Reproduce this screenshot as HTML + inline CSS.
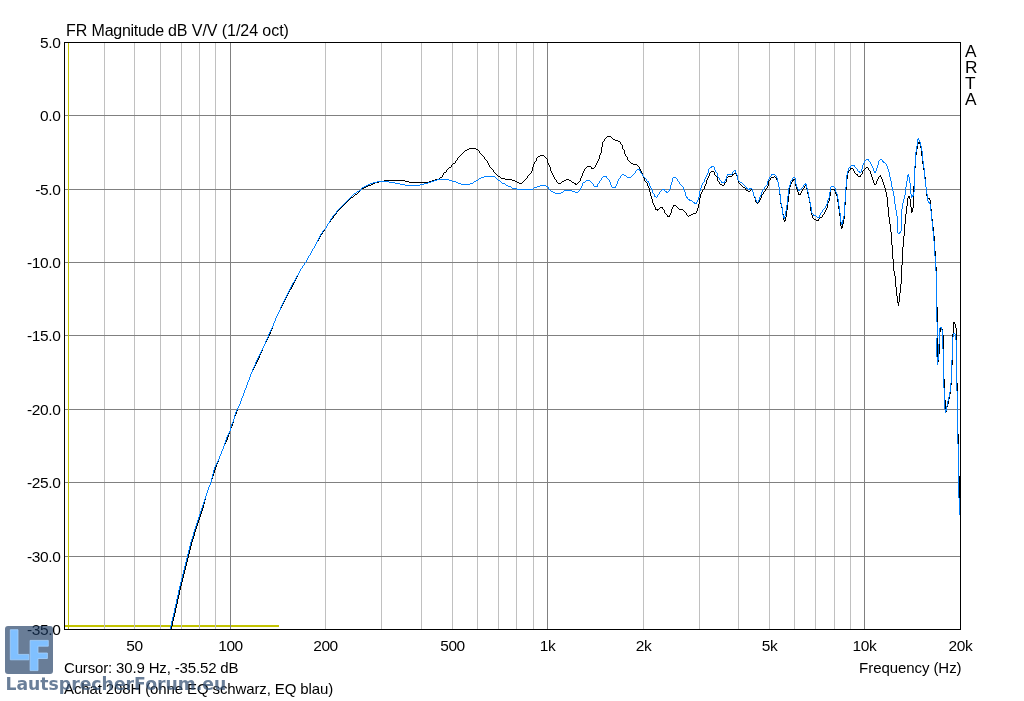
<!DOCTYPE html>
<html><head><meta charset="utf-8"><title>FR Magnitude</title>
<style>
html,body{margin:0;padding:0;background:#fff;}
body{width:1024px;height:701px;position:relative;overflow:hidden;font-family:"Liberation Sans",Arial,sans-serif;color:#000;}
#chart{position:absolute;left:0;top:0;}
.t{position:absolute;white-space:nowrap;line-height:1;}
#title{left:66px;top:23px;font-size:16px;letter-spacing:-0.06px;}
#title span{letter-spacing:-0.28px;}
.yl{position:absolute;right:963.6px;font-size:15.5px;letter-spacing:-0.4px;line-height:17px;height:17px;white-space:nowrap;text-align:right;}
.xl{position:absolute;top:637px;width:61px;text-align:center;font-size:15.5px;letter-spacing:-0.4px;line-height:17px;white-space:nowrap;}
#freq{right:62.5px;top:660px;font-size:15px;letter-spacing:-0.07px;}
#cursor{left:64px;top:660px;font-size:15px;letter-spacing:-0.155px;}
#cap{left:64px;top:681px;font-size:15px;letter-spacing:-0.12px;}
.arta{position:absolute;left:964.5px;font-size:16px;line-height:16px;transform:scaleX(1.08);transform-origin:0 0;}
#logo{position:absolute;left:5px;top:626px;width:48px;height:48px;border-radius:3px;background:rgba(25,56,95,0.65);}
#wm{position:absolute;left:5.4px;top:674px;font-family:"DejaVu Sans","Liberation Sans",sans-serif;font-weight:bold;font-size:17.25px;line-height:20px;color:rgba(56,84,119,0.75);white-space:nowrap;}
</style></head><body>
<svg id="chart" width="1024" height="701" viewBox="0 0 1024 701">
<rect x="65" y="625" width="214" height="2" fill="#c3c300"/>
<rect x="104" y="43" width="1" height="586" fill="#c0c0c0"/>
<rect x="134" y="43" width="1" height="586" fill="#c0c0c0"/>
<rect x="160" y="43" width="1" height="586" fill="#c0c0c0"/>
<rect x="181" y="43" width="1" height="586" fill="#c0c0c0"/>
<rect x="199" y="43" width="1" height="586" fill="#c0c0c0"/>
<rect x="215" y="43" width="1" height="586" fill="#c0c0c0"/>
<rect x="325" y="43" width="1" height="586" fill="#c0c0c0"/>
<rect x="381" y="43" width="1" height="586" fill="#c0c0c0"/>
<rect x="421" y="43" width="1" height="586" fill="#c0c0c0"/>
<rect x="452" y="43" width="1" height="586" fill="#c0c0c0"/>
<rect x="477" y="43" width="1" height="586" fill="#c0c0c0"/>
<rect x="498" y="43" width="1" height="586" fill="#c0c0c0"/>
<rect x="516" y="43" width="1" height="586" fill="#c0c0c0"/>
<rect x="533" y="43" width="1" height="586" fill="#c0c0c0"/>
<rect x="643" y="43" width="1" height="586" fill="#c0c0c0"/>
<rect x="699" y="43" width="1" height="586" fill="#c0c0c0"/>
<rect x="738" y="43" width="1" height="586" fill="#c0c0c0"/>
<rect x="769" y="43" width="1" height="586" fill="#c0c0c0"/>
<rect x="794" y="43" width="1" height="586" fill="#c0c0c0"/>
<rect x="815" y="43" width="1" height="586" fill="#c0c0c0"/>
<rect x="834" y="43" width="1" height="586" fill="#c0c0c0"/>
<rect x="850" y="43" width="1" height="586" fill="#c0c0c0"/>
<rect x="230" y="43" width="1" height="586" fill="#808080"/>
<rect x="547" y="43" width="1" height="586" fill="#808080"/>
<rect x="864" y="43" width="1" height="586" fill="#808080"/>
<rect x="65" y="115" width="895" height="1" fill="#808080"/>
<rect x="65" y="189" width="895" height="1" fill="#808080"/>
<rect x="65" y="262" width="895" height="1" fill="#808080"/>
<rect x="65" y="335" width="895" height="1" fill="#808080"/>
<rect x="65" y="409" width="895" height="1" fill="#808080"/>
<rect x="65" y="482" width="895" height="1" fill="#808080"/>
<rect x="65" y="556" width="895" height="1" fill="#808080"/>
<rect x="68" y="43" width="1" height="586" fill="#c3c300"/>
<path d="M171 626h1v3h-1zM172 621h1v5h-1zM173 617h1v4h-1zM174 613h1v4h-1zM175 608h1v5h-1zM176 604h1v4h-1zM177 599h1v5h-1zM178 595h1v4h-1zM179 590h1v5h-1zM180 586h1v4h-1zM181 582h1v4h-1zM182 578h1v4h-1zM183 574h1v4h-1zM184 570h1v4h-1zM185 566h1v4h-1zM186 562h1v4h-1zM187 558h1v4h-1zM188 554h1v4h-1zM189 550h1v4h-1zM190 546h1v4h-1zM191 542h1v4h-1zM192 539h1v3h-1zM193 536h1v3h-1zM194 532h1v4h-1zM195 529h1v3h-1zM196 526h1v3h-1zM197 523h1v3h-1zM198 520h1v3h-1zM199 517h1v3h-1zM200 514h1v3h-1zM201 511h1v3h-1zM202 508h1v3h-1zM203 504h1v4h-1zM204 500h1v4h-1zM205 496h1v4h-1zM206 493h1v3h-1zM207 490h1v3h-1zM208 487h1v3h-1zM209 485h1v2h-1zM210 482h1v3h-1zM211 479h1v3h-1zM212 476h1v3h-1zM213 473h1v3h-1zM214 470h1v3h-1zM215 467h1v3h-1zM216 464h1v3h-1zM217 462h1v2h-1zM218 459h1v3h-1zM219 456h1v3h-1zM220 454h1v2h-1zM221 451h1v3h-1zM222 449h1v2h-1zM223 446h1v3h-1zM224 444h1v2h-1zM225 442h1v2h-1zM226 440h1v2h-1zM227 437h1v3h-1zM228 434h1v3h-1zM229 431h1v3h-1zM230 428h1v3h-1zM231 426h1v2h-1zM232 423h1v3h-1zM233 419h1v4h-1zM234 416h1v3h-1zM235 414h1v2h-1zM236 411h1v3h-1zM237 408h1v3h-1zM238 406h1v2h-1zM239 404h1v2h-1zM240 401h1v3h-1zM241 398h1v3h-1zM242 396h1v2h-1zM243 393h1v3h-1zM244 390h1v3h-1zM245 388h1v2h-1zM246 385h1v3h-1zM247 382h1v3h-1zM248 380h1v2h-1zM249 377h1v3h-1zM250 374h1v3h-1zM251 372h1v2h-1zM252 370h1v2h-1zM253 368h1v2h-1zM254 366h1v2h-1zM255 364h1v2h-1zM256 362h1v2h-1zM257 360h1v2h-1zM258 358h1v2h-1zM259 355h1v3h-1zM260 353h1v2h-1zM261 351h1v2h-1zM262 348h1v3h-1zM263 346h1v2h-1zM264 344h1v2h-1zM265 342h1v2h-1zM266 340h1v2h-1zM267 338h1v2h-1zM268 336h1v2h-1zM269 334h1v2h-1zM270 331h1v3h-1zM271 329h1v2h-1zM272 326h1v3h-1zM273 323h1v3h-1zM274 321h1v2h-1zM275 318h1v3h-1zM276 316h1v2h-1zM277 314h1v2h-1zM278 312h1v2h-1zM279 310h1v2h-1zM280 308h1v2h-1zM281 306h1v2h-1zM282 304h1v2h-1zM283 302h1v2h-1zM284 300h1v2h-1zM285 298h1v2h-1zM286 296h1v2h-1zM287 294h1v2h-1zM288 292h1v2h-1zM289 290h1v2h-1zM291 287h1v2h-1zM292 285h1v2h-1zM293 283h1v2h-1zM294 281h1v2h-1zM295 279h1v2h-1zM296 277h1v2h-1zM297 275h1v2h-1zM298 273h1v2h-1zM299 271h1v2h-1zM300 269h1v2h-1zM302 266h1v2h-1zM304 263h1v2h-1zM306 260h1v2h-1zM307 258h1v2h-1zM308 256h1v2h-1zM310 253h1v2h-1zM311 251h1v2h-1zM312 249h1v2h-1zM314 246h1v2h-1zM315 244h1v2h-1zM316 242h1v2h-1zM318 239h1v2h-1zM319 237h1v2h-1zM320 235h1v2h-1zM322 232h1v2h-1zM324 229h1v2h-1zM326 226h1v2h-1zM327 224h1v2h-1zM330 220h1v2h-1zM333 216h1v2h-1zM336 212h1v2h-1zM442 175h1v2h-1zM443 173h1v2h-1zM446 170h1v2h-1zM451 165h1v2h-1zM455 161h1v2h-1zM457 158h1v2h-1zM479 151h1v2h-1zM484 157h1v2h-1zM487 161h1v2h-1zM488 163h1v2h-1zM489 165h1v2h-1zM493 170h1v2h-1zM527 176h1v2h-1zM531 171h1v2h-1zM532 167h1v4h-1zM533 164h1v3h-1zM534 162h1v2h-1zM536 158h1v3h-1zM547 159h1v4h-1zM548 163h1v2h-1zM549 165h1v2h-1zM550 167h1v4h-1zM551 171h1v2h-1zM552 173h1v2h-1zM553 175h1v2h-1zM554 177h1v2h-1zM556 180h1v2h-1zM575 183h1v2h-1zM580 178h1v3h-1zM581 176h1v2h-1zM582 173h1v3h-1zM583 171h1v2h-1zM584 169h1v2h-1zM591 167h1v2h-1zM595 165h1v2h-1zM596 163h1v2h-1zM597 161h1v2h-1zM598 159h1v2h-1zM599 155h1v4h-1zM600 153h1v2h-1zM601 147h1v6h-1zM602 142h1v5h-1zM604 139h1v2h-1zM620 142h1v2h-1zM622 145h1v4h-1zM624 150h1v4h-1zM625 154h1v2h-1zM627 157h1v3h-1zM639 167h1v2h-1zM640 169h1v2h-1zM641 171h1v2h-1zM642 173h1v3h-1zM643 176h1v2h-1zM644 178h1v3h-1zM647 183h1v3h-1zM648 186h1v2h-1zM649 188h1v4h-1zM650 192h1v4h-1zM651 196h1v3h-1zM652 199h1v4h-1zM653 203h1v2h-1zM654 205h1v2h-1zM655 207h1v3h-1zM657 209h1v2h-1zM662 207h1v2h-1zM664 210h1v3h-1zM667 215h1v2h-1zM669 215h1v2h-1zM670 213h1v2h-1zM671 209h1v4h-1zM672 207h1v2h-1zM673 205h1v2h-1zM686 213h1v2h-1zM696 211h1v2h-1zM697 208h1v3h-1zM698 204h1v4h-1zM699 198h1v6h-1zM700 194h1v4h-1zM701 192h1v2h-1zM702 190h1v2h-1zM704 186h1v3h-1zM705 184h1v2h-1zM706 180h1v4h-1zM707 178h1v2h-1zM708 176h1v2h-1zM709 173h1v3h-1zM714 172h1v3h-1zM717 177h1v4h-1zM719 182h1v2h-1zM724 183h1v2h-1zM726 178h1v4h-1zM732 174h1v2h-1zM736 174h1v2h-1zM737 176h1v4h-1zM738 180h1v3h-1zM745 188h1v2h-1zM752 189h1v3h-1zM753 192h1v4h-1zM754 196h1v2h-1zM755 198h1v4h-1zM759 200h1v2h-1zM760 198h1v2h-1zM761 195h1v3h-1zM763 192h1v2h-1zM765 189h1v2h-1zM767 186h1v2h-1zM768 181h1v5h-1zM770 178h1v2h-1zM776 178h1v2h-1zM777 180h1v2h-1zM778 182h1v5h-1zM779 187h1v8h-1zM780 195h1v9h-1zM781 204h1v4h-1zM782 208h1v6h-1zM783 214h1v6h-1zM784 220h1v2h-1zM785 217h1v4h-1zM786 210h1v7h-1zM787 202h1v8h-1zM788 194h1v8h-1zM789 187h1v7h-1zM790 184h1v3h-1zM791 182h1v2h-1zM792 180h1v2h-1zM793 179h1v2h-1zM795 180h1v6h-1zM796 186h1v3h-1zM797 189h1v3h-1zM798 192h1v3h-1zM800 193h1v2h-1zM801 191h1v2h-1zM802 189h1v2h-1zM804 186h1v2h-1zM806 186h1v3h-1zM807 189h1v5h-1zM808 194h1v4h-1zM809 198h1v5h-1zM810 203h1v8h-1zM811 211h1v4h-1zM812 215h1v3h-1zM818 219h1v2h-1zM822 215h1v2h-1zM824 212h1v2h-1zM825 210h1v2h-1zM826 208h1v2h-1zM827 203h1v5h-1zM828 201h1v2h-1zM829 196h1v5h-1zM830 190h1v6h-1zM834 189h1v2h-1zM835 191h1v3h-1zM836 194h1v2h-1zM837 196h1v6h-1zM838 202h1v7h-1zM839 209h1v7h-1zM840 216h1v10h-1zM841 226h1v3h-1zM842 224h1v4h-1zM843 219h1v5h-1zM844 205h1v14h-1zM845 190h1v15h-1zM846 179h1v11h-1zM847 173h1v6h-1zM848 171h1v2h-1zM850 168h1v2h-1zM853 169h1v2h-1zM854 171h1v2h-1zM857 174h1v2h-1zM860 175h1v2h-1zM862 171h1v3h-1zM868 168h1v2h-1zM870 171h1v3h-1zM871 174h1v3h-1zM872 177h1v3h-1zM873 180h1v3h-1zM874 183h1v2h-1zM876 181h1v3h-1zM877 179h1v2h-1zM878 177h1v2h-1zM880 175h1v2h-1zM881 177h1v2h-1zM882 179h1v3h-1zM883 182h1v3h-1zM884 185h1v3h-1zM885 188h1v4h-1zM886 192h1v5h-1zM887 197h1v10h-1zM888 207h1v10h-1zM889 217h1v7h-1zM890 224h1v8h-1zM891 232h1v13h-1zM892 245h1v14h-1zM893 259h1v12h-1zM894 271h1v5h-1zM895 276h1v11h-1zM896 287h1v9h-1zM897 296h1v7h-1zM898 302h1v4h-1zM899 293h1v9h-1zM900 284h1v9h-1zM901 265h1v19h-1zM902 247h1v18h-1zM903 236h1v11h-1zM904 224h1v12h-1zM905 214h1v10h-1zM906 206h1v8h-1zM907 198h1v8h-1zM908 196h1v2h-1zM909 196h1v3h-1zM910 199h1v8h-1zM911 207h1v6h-1zM912 208h1v4h-1zM913 186h1v22h-1zM914 168h1v18h-1zM915 155h1v13h-1zM916 149h1v6h-1zM917 144h1v5h-1zM918 142h1v2h-1zM919 142h1v2h-1zM920 144h1v4h-1zM921 148h1v8h-1zM922 156h1v8h-1zM923 164h1v6h-1zM924 170h1v7h-1zM925 177h1v10h-1zM926 187h1v9h-1zM927 196h1v2h-1zM929 198h1v2h-1zM930 200h1v9h-1zM931 209h1v10h-1zM932 219h1v8h-1zM933 227h1v9h-1zM934 236h1v15h-1zM935 251h1v16h-1zM936 267h1v40h-1zM937 307h1v58h-1zM938 354h1v8h-1zM939 332h1v22h-1zM940 327h1v5h-1zM941 327h1v2h-1zM942 329h1v6h-1zM943 335h1v44h-1zM944 379h1v21h-1zM945 400h1v13h-1zM946 407h1v5h-1zM947 404h1v3h-1zM948 399h1v5h-1zM949 394h1v5h-1zM950 385h1v9h-1zM951 365h1v20h-1zM952 334h1v31h-1zM953 322h1v12h-1zM954 322h1v2h-1zM955 324h1v4h-1zM956 328h1v55h-1zM957 383h1v51h-1zM958 434h1v42h-1zM959 476h1v39h-1zM607 136h4v1h-4zM606 137h1v1h-1zM611 137h1v1h-1zM605 138h1v1h-1zM612 138h1v1h-1zM613 139h2v1h-2zM615 140h3v1h-3zM603 141h1v1h-1zM618 141h2v1h-2zM621 144h1v1h-1zM469 148h7v1h-7zM467 149h2v1h-2zM476 149h2v1h-2zM623 149h1v1h-1zM465 150h2v1h-2zM478 150h1v1h-1zM464 151h1v1h-1zM463 152h1v1h-1zM462 153h1v1h-1zM480 153h1v1h-1zM461 154h1v1h-1zM481 154h1v1h-1zM460 155h1v1h-1zM482 155h1v1h-1zM540 155h4v1h-4zM459 156h1v1h-1zM483 156h1v1h-1zM538 156h2v1h-2zM544 156h1v1h-1zM626 156h1v1h-1zM458 157h1v1h-1zM537 157h1v1h-1zM545 157h1v1h-1zM546 158h1v1h-1zM485 159h1v1h-1zM456 160h1v1h-1zM486 160h1v1h-1zM628 160h1v1h-1zM535 161h1v1h-1zM629 161h1v1h-1zM630 162h1v1h-1zM453 163h2v1h-2zM631 163h2v1h-2zM452 164h1v1h-1zM633 164h4v1h-4zM637 165h1v1h-1zM587 166h4v1h-4zM638 166h1v1h-1zM449 167h2v1h-2zM490 167h1v1h-1zM586 167h1v1h-1zM594 167h1v1h-1zM866 167h2v1h-2zM448 168h1v1h-1zM491 168h1v1h-1zM585 168h1v1h-1zM592 168h2v1h-2zM851 168h2v1h-2zM865 168h1v1h-1zM447 169h1v1h-1zM492 169h1v1h-1zM864 169h1v1h-1zM849 170h1v1h-1zM863 170h1v1h-1zM869 170h1v1h-1zM711 171h3v1h-3zM444 172h2v1h-2zM494 172h1v1h-1zM710 172h1v1h-1zM495 173h1v1h-1zM530 173h1v1h-1zM734 173h2v1h-2zM855 173h1v1h-1zM496 174h1v1h-1zM529 174h1v1h-1zM733 174h1v1h-1zM856 174h1v1h-1zM861 174h1v1h-1zM497 175h1v1h-1zM528 175h1v1h-1zM715 175h1v1h-1zM498 176h2v1h-2zM716 176h1v1h-1zM728 176h4v1h-4zM774 176h1v1h-1zM858 176h2v1h-2zM879 176h1v1h-1zM440 177h2v1h-2zM500 177h1v1h-1zM727 177h1v1h-1zM771 177h3v1h-3zM775 177h1v1h-1zM439 178h1v1h-1zM501 178h4v1h-4zM526 178h1v1h-1zM435 179h4v1h-4zM505 179h7v1h-7zM525 179h1v1h-1zM555 179h1v1h-1zM566 179h3v1h-3zM794 179h1v1h-1zM384 180h21v1h-21zM432 180h3v1h-3zM512 180h3v1h-3zM524 180h1v1h-1zM564 180h2v1h-2zM569 180h2v1h-2zM769 180h1v1h-1zM379 181h5v1h-5zM405 181h4v1h-4zM429 181h3v1h-3zM515 181h2v1h-2zM523 181h1v1h-1zM562 181h2v1h-2zM571 181h1v1h-1zM579 181h1v1h-1zM645 181h1v1h-1zM718 181h1v1h-1zM375 182h4v1h-4zM409 182h20v1h-20zM517 182h2v1h-2zM522 182h1v1h-1zM557 182h1v1h-1zM561 182h1v1h-1zM572 182h2v1h-2zM578 182h1v1h-1zM646 182h1v1h-1zM725 182h1v1h-1zM373 183h2v1h-2zM519 183h3v1h-3zM558 183h3v1h-3zM574 183h1v1h-1zM577 183h1v1h-1zM739 183h1v1h-1zM371 184h2v1h-2zM576 184h1v1h-1zM720 184h2v1h-2zM740 184h1v1h-1zM875 184h1v1h-1zM368 185h3v1h-3zM722 185h2v1h-2zM741 185h1v1h-1zM805 185h1v1h-1zM366 186h2v1h-2zM742 186h1v1h-1zM364 187h2v1h-2zM743 187h2v1h-2zM362 188h2v1h-2zM766 188h1v1h-1zM803 188h1v1h-1zM361 189h1v1h-1zM703 189h1v1h-1zM751 189h1v1h-1zM831 189h3v1h-3zM360 190h1v1h-1zM746 190h2v1h-2zM750 190h1v1h-1zM359 191h1v1h-1zM748 191h2v1h-2zM764 191h1v1h-1zM358 192h1v1h-1zM357 193h1v1h-1zM355 194h2v1h-2zM762 194h1v1h-1zM799 194h1v1h-1zM354 195h1v1h-1zM353 196h1v1h-1zM351 197h2v1h-2zM350 198h1v1h-1zM928 198h1v1h-1zM349 199h1v1h-1zM348 200h1v1h-1zM347 201h1v1h-1zM346 202h1v1h-1zM756 202h1v1h-1zM758 202h1v1h-1zM345 203h1v1h-1zM757 203h1v1h-1zM344 204h1v1h-1zM343 205h1v1h-1zM674 205h2v1h-2zM342 206h1v1h-1zM676 206h1v1h-1zM341 207h1v1h-1zM660 207h2v1h-2zM677 207h1v1h-1zM340 208h1v1h-1zM659 208h1v1h-1zM678 208h1v1h-1zM339 209h1v1h-1zM656 209h1v1h-1zM658 209h1v1h-1zM663 209h1v1h-1zM679 209h4v1h-4zM338 210h1v1h-1zM683 210h1v1h-1zM337 211h1v1h-1zM684 211h1v1h-1zM685 212h1v1h-1zM665 213h1v1h-1zM693 213h3v1h-3zM335 214h1v1h-1zM666 214h1v1h-1zM691 214h2v1h-2zM823 214h1v1h-1zM334 215h1v1h-1zM687 215h1v1h-1zM689 215h2v1h-2zM668 216h1v1h-1zM688 216h1v1h-1zM820 217h2v1h-2zM332 218h1v1h-1zM813 218h1v1h-1zM819 218h1v1h-1zM331 219h1v1h-1zM814 219h2v1h-2zM816 220h2v1h-2zM329 222h1v1h-1zM328 223h1v1h-1zM325 228h1v1h-1zM323 231h1v1h-1zM321 234h1v1h-1zM317 241h1v1h-1zM313 248h1v1h-1zM309 255h1v1h-1zM305 262h1v1h-1zM303 265h1v1h-1zM301 268h1v1h-1zM290 289h1v1h-1z" fill="#000" shape-rendering="crispEdges"/>
<path d="M170 626h1v3h-1zM171 621h1v5h-1zM172 617h1v4h-1zM173 613h1v4h-1zM174 608h1v5h-1zM175 604h1v4h-1zM176 599h1v5h-1zM177 595h1v4h-1zM178 590h1v5h-1zM179 586h1v4h-1zM180 582h1v4h-1zM181 578h1v4h-1zM182 574h1v4h-1zM183 570h1v4h-1zM184 566h1v4h-1zM185 562h1v4h-1zM186 558h1v4h-1zM187 554h1v4h-1zM188 550h1v4h-1zM189 546h1v4h-1zM190 542h1v4h-1zM191 539h1v3h-1zM192 536h1v3h-1zM193 532h1v4h-1zM194 529h1v3h-1zM195 526h1v3h-1zM196 523h1v3h-1zM197 520h1v3h-1zM198 517h1v3h-1zM199 514h1v3h-1zM200 511h1v3h-1zM201 508h1v3h-1zM202 505h1v3h-1zM203 502h1v3h-1zM204 499h1v3h-1zM205 496h1v3h-1zM206 493h1v3h-1zM207 490h1v3h-1zM208 487h1v3h-1zM209 485h1v2h-1zM210 482h1v3h-1zM211 478h1v4h-1zM212 474h1v4h-1zM213 470h1v4h-1zM214 467h1v3h-1zM215 465h1v2h-1zM216 463h1v2h-1zM217 461h1v2h-1zM218 459h1v2h-1zM219 456h1v3h-1zM220 454h1v2h-1zM221 451h1v3h-1zM222 449h1v2h-1zM223 446h1v3h-1zM224 443h1v3h-1zM225 440h1v3h-1zM226 437h1v3h-1zM227 435h1v2h-1zM228 433h1v2h-1zM229 431h1v2h-1zM230 427h1v4h-1zM231 424h1v3h-1zM232 422h1v2h-1zM233 419h1v3h-1zM234 415h1v4h-1zM235 412h1v3h-1zM236 410h1v2h-1zM237 408h1v2h-1zM238 406h1v2h-1zM239 404h1v2h-1zM240 401h1v3h-1zM241 398h1v3h-1zM242 396h1v2h-1zM243 393h1v3h-1zM244 390h1v3h-1zM245 388h1v2h-1zM246 385h1v3h-1zM247 382h1v3h-1zM248 380h1v2h-1zM249 377h1v3h-1zM250 374h1v3h-1zM251 372h1v2h-1zM252 369h1v3h-1zM253 367h1v2h-1zM254 365h1v2h-1zM255 362h1v3h-1zM256 360h1v2h-1zM257 358h1v2h-1zM258 356h1v2h-1zM259 354h1v2h-1zM260 352h1v2h-1zM261 350h1v2h-1zM262 348h1v2h-1zM263 346h1v2h-1zM264 344h1v2h-1zM265 341h1v3h-1zM266 339h1v2h-1zM267 337h1v2h-1zM268 334h1v3h-1zM269 332h1v2h-1zM270 330h1v2h-1zM271 328h1v2h-1zM272 326h1v2h-1zM273 323h1v3h-1zM274 321h1v2h-1zM275 318h1v3h-1zM276 316h1v2h-1zM277 314h1v2h-1zM278 312h1v2h-1zM279 310h1v2h-1zM280 307h1v3h-1zM281 305h1v2h-1zM282 303h1v2h-1zM283 301h1v2h-1zM284 299h1v2h-1zM285 297h1v2h-1zM286 295h1v2h-1zM287 293h1v2h-1zM288 291h1v2h-1zM289 289h1v2h-1zM290 287h1v2h-1zM291 285h1v2h-1zM292 283h1v2h-1zM294 280h1v2h-1zM295 278h1v2h-1zM296 276h1v2h-1zM298 273h1v2h-1zM299 271h1v2h-1zM300 269h1v2h-1zM302 266h1v2h-1zM304 263h1v2h-1zM306 260h1v2h-1zM307 258h1v2h-1zM308 256h1v2h-1zM310 253h1v2h-1zM311 251h1v2h-1zM312 249h1v2h-1zM314 246h1v2h-1zM315 244h1v2h-1zM316 242h1v2h-1zM317 240h1v2h-1zM318 238h1v2h-1zM319 236h1v2h-1zM320 234h1v2h-1zM322 231h1v2h-1zM326 226h1v2h-1zM327 224h1v2h-1zM329 221h1v2h-1zM330 219h1v2h-1zM332 216h1v2h-1zM336 211h1v2h-1zM361 188h1v2h-1zM548 187h1v2h-1zM580 188h1v2h-1zM581 186h1v2h-1zM582 183h1v3h-1zM593 184h1v2h-1zM597 184h1v3h-1zM599 181h1v2h-1zM601 178h1v2h-1zM606 176h1v2h-1zM609 180h1v2h-1zM610 182h1v3h-1zM611 185h1v2h-1zM615 186h1v2h-1zM616 184h1v2h-1zM617 181h1v3h-1zM618 179h1v2h-1zM620 176h1v2h-1zM635 171h1v2h-1zM639 169h1v2h-1zM640 171h1v2h-1zM642 174h1v2h-1zM646 179h1v2h-1zM648 181h1v2h-1zM649 183h1v3h-1zM650 186h1v2h-1zM651 188h1v2h-1zM652 190h1v3h-1zM654 194h1v3h-1zM657 195h1v2h-1zM659 192h1v2h-1zM664 189h1v2h-1zM666 191h1v2h-1zM669 189h1v2h-1zM670 185h1v4h-1zM671 182h1v3h-1zM672 178h1v4h-1zM677 179h1v2h-1zM679 182h1v2h-1zM683 187h1v3h-1zM684 190h1v2h-1zM685 192h1v4h-1zM686 196h1v2h-1zM687 197h1v2h-1zM689 199h1v2h-1zM694 202h1v2h-1zM696 202h1v2h-1zM697 200h1v2h-1zM698 197h1v3h-1zM699 191h1v6h-1zM700 188h1v3h-1zM701 185h1v3h-1zM702 183h1v2h-1zM704 179h1v3h-1zM705 177h1v2h-1zM706 175h1v2h-1zM707 173h1v2h-1zM708 169h1v4h-1zM711 166h1v2h-1zM714 167h1v3h-1zM715 170h1v2h-1zM717 173h1v4h-1zM719 178h1v2h-1zM721 181h1v2h-1zM724 181h1v2h-1zM725 179h1v2h-1zM726 176h1v3h-1zM727 174h1v2h-1zM732 172h1v2h-1zM735 170h1v3h-1zM736 173h1v2h-1zM737 175h1v5h-1zM746 187h1v2h-1zM749 188h1v2h-1zM752 189h1v3h-1zM753 192h1v4h-1zM755 197h1v3h-1zM756 200h1v2h-1zM758 200h1v2h-1zM759 197h1v3h-1zM760 195h1v2h-1zM761 192h1v3h-1zM762 190h1v2h-1zM764 187h1v2h-1zM767 181h1v4h-1zM768 179h1v2h-1zM769 177h1v2h-1zM771 174h1v2h-1zM776 176h1v2h-1zM777 178h1v4h-1zM778 182h1v5h-1zM779 187h1v7h-1zM780 194h1v9h-1zM781 203h1v4h-1zM782 207h1v8h-1zM783 215h1v3h-1zM784 216h1v3h-1zM785 211h1v5h-1zM786 205h1v6h-1zM787 196h1v9h-1zM788 188h1v8h-1zM789 185h1v3h-1zM790 181h1v4h-1zM792 178h1v2h-1zM795 178h1v6h-1zM796 184h1v3h-1zM797 187h1v2h-1zM798 189h1v2h-1zM803 185h1v2h-1zM805 183h1v2h-1zM806 184h1v4h-1zM807 188h1v4h-1zM808 192h1v5h-1zM809 197h1v5h-1zM810 202h1v5h-1zM811 207h1v6h-1zM813 214h1v2h-1zM819 215h1v3h-1zM820 213h1v2h-1zM822 210h1v2h-1zM825 206h1v2h-1zM826 204h1v2h-1zM827 200h1v4h-1zM828 198h1v2h-1zM829 192h1v6h-1zM830 187h1v5h-1zM835 188h1v4h-1zM836 192h1v2h-1zM837 194h1v5h-1zM838 199h1v7h-1zM839 206h1v7h-1zM840 213h1v9h-1zM841 222h1v3h-1zM842 220h1v4h-1zM843 216h1v4h-1zM844 202h1v14h-1zM845 187h1v15h-1zM846 175h1v12h-1zM847 171h1v4h-1zM848 168h1v3h-1zM850 166h1v2h-1zM854 165h1v2h-1zM857 169h1v2h-1zM859 171h1v2h-1zM861 169h1v3h-1zM862 165h1v4h-1zM863 163h1v2h-1zM864 161h1v2h-1zM868 159h1v2h-1zM870 162h1v2h-1zM871 164h1v2h-1zM872 166h1v2h-1zM873 168h1v3h-1zM874 171h1v2h-1zM875 171h1v2h-1zM876 168h1v3h-1zM877 165h1v3h-1zM878 161h1v4h-1zM882 160h1v2h-1zM883 161h1v2h-1zM886 164h1v2h-1zM887 166h1v3h-1zM888 169h1v3h-1zM889 172h1v5h-1zM890 177h1v4h-1zM891 181h1v6h-1zM892 187h1v4h-1zM893 191h1v5h-1zM894 196h1v8h-1zM895 204h1v6h-1zM896 210h1v6h-1zM897 216h1v17h-1zM899 232h1v2h-1zM900 231h1v2h-1zM901 209h1v22h-1zM902 203h1v6h-1zM903 199h1v4h-1zM904 195h1v4h-1zM905 187h1v8h-1zM906 181h1v6h-1zM907 175h1v6h-1zM908 174h1v3h-1zM909 177h1v6h-1zM910 183h1v11h-1zM911 194h1v4h-1zM912 195h1v2h-1zM913 192h1v4h-1zM914 166h1v26h-1zM915 152h1v14h-1zM916 146h1v6h-1zM917 139h1v7h-1zM918 138h1v2h-1zM919 140h1v2h-1zM920 142h1v4h-1zM921 146h1v5h-1zM922 151h1v10h-1zM923 161h1v7h-1zM924 168h1v11h-1zM925 179h1v8h-1zM926 187h1v7h-1zM927 194h1v7h-1zM928 201h1v2h-1zM929 202h1v2h-1zM930 204h1v7h-1zM931 211h1v10h-1zM932 221h1v10h-1zM933 231h1v10h-1zM934 241h1v15h-1zM935 256h1v15h-1zM936 271h1v51h-1zM936 338h1v19h-1zM937 322h1v16h-1zM937 357h1v8h-1zM938 344h1v16h-1zM939 328h1v16h-1zM941 327h1v3h-1zM942 330h1v19h-1zM943 349h1v39h-1zM944 388h1v21h-1zM945 409h1v4h-1zM946 406h1v5h-1zM947 401h1v5h-1zM948 397h1v4h-1zM949 392h1v5h-1zM950 383h1v9h-1zM951 360h1v23h-1zM952 337h1v23h-1zM953 333h1v4h-1zM955 334h1v6h-1zM956 340h1v51h-1zM957 391h1v53h-1zM958 444h1v54h-1zM959 498h1v17h-1zM866 159h2v1h-2zM880 159h2v1h-2zM865 160h1v1h-1zM879 160h1v1h-1zM869 161h1v1h-1zM884 162h1v1h-1zM885 163h1v1h-1zM851 165h3v1h-3zM712 166h2v1h-2zM710 167h1v1h-1zM849 167h1v1h-1zM855 167h1v1h-1zM709 168h1v1h-1zM856 168h1v1h-1zM637 169h2v1h-2zM636 170h1v1h-1zM734 170h1v1h-1zM733 171h1v1h-1zM858 171h1v1h-1zM716 172h1v1h-1zM860 172h1v1h-1zM634 173h1v1h-1zM641 173h1v1h-1zM622 174h2v1h-2zM633 174h1v1h-1zM728 174h4v1h-4zM772 174h3v1h-3zM621 175h1v1h-1zM624 175h2v1h-2zM632 175h1v1h-1zM775 175h1v1h-1zM484 176h11v1h-11zM603 176h3v1h-3zM626 176h1v1h-1zM631 176h1v1h-1zM643 176h1v1h-1zM770 176h1v1h-1zM481 177h3v1h-3zM495 177h1v1h-1zM602 177h1v1h-1zM627 177h4v1h-4zM644 177h1v1h-1zM673 177h3v1h-3zM718 177h1v1h-1zM793 177h2v1h-2zM479 178h2v1h-2zM496 178h1v1h-1zM607 178h1v1h-1zM619 178h1v1h-1zM645 178h1v1h-1zM676 178h1v1h-1zM437 179h12v1h-12zM478 179h1v1h-1zM497 179h1v1h-1zM608 179h1v1h-1zM434 180h3v1h-3zM449 180h3v1h-3zM476 180h2v1h-2zM498 180h2v1h-2zM586 180h4v1h-4zM600 180h1v1h-1zM720 180h1v1h-1zM738 180h1v1h-1zM791 180h1v1h-1zM377 181h12v1h-12zM431 181h3v1h-3zM452 181h4v1h-4zM474 181h2v1h-2zM500 181h1v1h-1zM585 181h1v1h-1zM590 181h1v1h-1zM647 181h1v1h-1zM678 181h1v1h-1zM739 181h1v1h-1zM373 182h4v1h-4zM389 182h6v1h-6zM428 182h3v1h-3zM456 182h2v1h-2zM473 182h1v1h-1zM501 182h1v1h-1zM583 182h2v1h-2zM591 182h1v1h-1zM703 182h1v1h-1zM722 182h2v1h-2zM740 182h2v1h-2zM370 183h3v1h-3zM395 183h5v1h-5zM424 183h4v1h-4zM458 183h3v1h-3zM470 183h3v1h-3zM502 183h3v1h-3zM592 183h1v1h-1zM598 183h1v1h-1zM742 183h1v1h-1zM368 184h2v1h-2zM400 184h5v1h-5zM420 184h4v1h-4zM461 184h9v1h-9zM505 184h1v1h-1zM680 184h1v1h-1zM743 184h1v1h-1zM804 184h1v1h-1zM366 185h2v1h-2zM405 185h15v1h-15zM506 185h2v1h-2zM540 185h6v1h-6zM681 185h1v1h-1zM744 185h1v1h-1zM766 185h1v1h-1zM364 186h2v1h-2zM508 186h3v1h-3zM537 186h3v1h-3zM546 186h2v1h-2zM594 186h3v1h-3zM682 186h1v1h-1zM745 186h1v1h-1zM765 186h1v1h-1zM831 186h3v1h-3zM362 187h2v1h-2zM511 187h1v1h-1zM534 187h3v1h-3zM612 187h3v1h-3zM802 187h1v1h-1zM834 187h1v1h-1zM512 188h5v1h-5zM533 188h1v1h-1zM747 188h1v1h-1zM750 188h2v1h-2zM801 188h1v1h-1zM517 189h16v1h-16zM549 189h1v1h-1zM662 189h2v1h-2zM748 189h1v1h-1zM763 189h1v1h-1zM800 189h1v1h-1zM359 190h2v1h-2zM550 190h1v1h-1zM564 190h8v1h-8zM579 190h1v1h-1zM661 190h1v1h-1zM799 190h1v1h-1zM357 191h2v1h-2zM551 191h2v1h-2zM563 191h1v1h-1zM572 191h3v1h-3zM578 191h1v1h-1zM660 191h1v1h-1zM665 191h1v1h-1zM668 191h1v1h-1zM356 192h1v1h-1zM553 192h2v1h-2zM561 192h2v1h-2zM575 192h3v1h-3zM667 192h1v1h-1zM354 193h2v1h-2zM555 193h6v1h-6zM653 193h1v1h-1zM353 194h1v1h-1zM658 194h1v1h-1zM352 195h1v1h-1zM351 196h1v1h-1zM655 196h1v1h-1zM754 196h1v1h-1zM350 197h1v1h-1zM656 197h1v1h-1zM349 198h1v1h-1zM348 199h1v1h-1zM688 199h1v1h-1zM347 200h1v1h-1zM690 200h2v1h-2zM346 201h1v1h-1zM692 201h1v1h-1zM345 202h1v1h-1zM693 202h1v1h-1zM757 202h1v1h-1zM344 203h1v1h-1zM695 203h1v1h-1zM343 204h1v1h-1zM342 205h1v1h-1zM341 206h1v1h-1zM340 207h1v1h-1zM339 208h1v1h-1zM824 208h1v1h-1zM338 209h1v1h-1zM823 209h1v1h-1zM337 210h1v1h-1zM821 212h1v1h-1zM335 213h1v1h-1zM812 213h1v1h-1zM334 214h1v1h-1zM333 215h1v1h-1zM814 215h2v1h-2zM816 216h1v1h-1zM817 217h2v1h-2zM331 218h1v1h-1zM328 223h1v1h-1zM325 228h1v1h-1zM324 229h1v1h-1zM323 230h1v1h-1zM321 233h1v1h-1zM898 233h1v1h-1zM313 248h1v1h-1zM309 255h1v1h-1zM305 262h1v1h-1zM303 265h1v1h-1zM301 268h1v1h-1zM297 275h1v1h-1zM293 282h1v1h-1zM940 327h1v1h-1zM954 333h1v1h-1z" fill="#0080ff" shape-rendering="crispEdges"/>
<rect x="64.5" y="42.5" width="896" height="587" fill="none" stroke="#000" stroke-width="1" shape-rendering="crispEdges"/>
</svg>
<div id="title" class="t">FR <span>Magnitude </span>dB V/V (1/24 oct)</div>
<div class="yl" style="top:34px">5.0</div>
<div class="yl" style="top:107px">0.0</div>
<div class="yl" style="top:181px">-5.0</div>
<div class="yl" style="top:254px">-10.0</div>
<div class="yl" style="top:327px">-15.0</div>
<div class="yl" style="top:401px">-20.0</div>
<div class="yl" style="top:474px">-25.0</div>
<div class="yl" style="top:548px">-30.0</div>
<div class="yl" style="top:621px">-35.0</div>
<div class="xl" style="left:104px">50</div>
<div class="xl" style="left:200px">100</div>
<div class="xl" style="left:295px">200</div>
<div class="xl" style="left:422px">500</div>
<div class="xl" style="left:517px">1k</div>
<div class="xl" style="left:613px">2k</div>
<div class="xl" style="left:739px">5k</div>
<div class="xl" style="left:834px">10k</div>
<div class="xl" style="left:930px">20k</div>
<div id="freq" class="t">Frequency (Hz)</div>
<div id="cursor" class="t">Cursor: 30.9 Hz, -35.52 dB</div>
<div id="cap" class="t">Achat 208H (ohne EQ schwarz, EQ blau)</div>
<div class="arta" style="top:44px">A</div><div class="arta" style="top:60px">R</div><div class="arta" style="top:76px">T</div><div class="arta" style="top:92px">A</div>
<div id="logo"><svg width="48" height="48" viewBox="0 0 48 48">
<path d="M5.3 3.700h7.700v24.700h10.900v5.400h-18.600z" fill="#80c0ff" stroke="#a4d2ff" stroke-width="0.8"/>
<path d="M25.100 14.400h18.200v5.800h-10.300v6.800h9.400v5.500h-9.400v12.100h-7.900z" fill="#80c0ff" stroke="#a4d2ff" stroke-width="0.8"/>
</svg></div>
<div id="wm">LautsprecherForum.eu</div>
</body></html>
